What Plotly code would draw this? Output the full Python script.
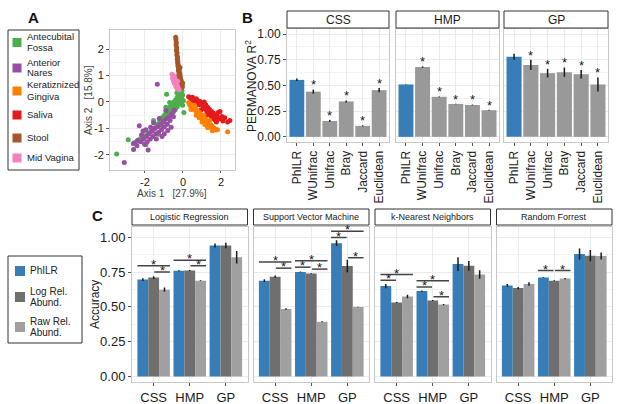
import plotly.graph_objects as go

W, H = 617, 404
FONT = "Liberation Sans, Arial, Helvetica, sans-serif"

# ---------------- panel A: PCoA of body sites
site_names = ["Antecubital\nFossa", "Anterior\nNares", "Keratiznized\nGingiva", "Saliva", "Stool", "Mid Vagina"]
site_colors = ["#4DAF4A", "#984EA3", "#FF7F00", "#E41A1C", "#A65628", "#F781BF"]

fossa_x = [-0.05, -0.12, -0.02, -0.22, -0.15, -0.05, -0.30, -0.25, -0.12, -0.38, -0.35, -0.20, -0.48, -0.45,
           -0.30, -0.58, -0.55, -0.40, -0.68, -0.64, -0.50, -0.78, -0.74, -0.60, -0.88, -0.84, -0.98, -0.94,
           -1.10, -1.05, -1.22, -1.18, -1.35, -1.45, -1.58, -1.70, -1.85, -2.05, -2.25, -2.45, -2.62, -2.88,
           -3.49, 0.05, -0.86, 0.02, -0.18, -0.08, -0.02, -1.95, -1.30, -0.70, -0.90, -0.32, -1.55]
fossa_y = [0.42, 0.34, 0.26, 0.28, 0.18, 0.12, 0.18, 0.06, 0.02, 0.08, -0.05, -0.08, 0.00, -0.14,
           -0.18, -0.08, -0.24, -0.28, -0.18, -0.33, -0.38, -0.28, -0.44, -0.48, -0.38, -0.54, -0.50, -0.64,
           -0.60, -0.76, -0.72, -0.86, -0.84, -0.96, -1.02, -1.12, -1.18, -1.28, -1.40, -1.50, -1.58, -1.43,
           -1.97, -0.40, 0.29, 0.05, 0.46, 0.55, -0.12, -1.62, -1.22, -0.02, -0.20, 0.35, -0.70]

nares_x = [-0.45, -0.58, -0.50, -0.72, -0.68, -0.88, -0.82, -1.02, -0.98, -1.18, -1.12, -1.32, -1.28, -1.48,
           -1.42, -1.62, -1.58, -1.78, -1.72, -1.92, -1.88, -2.08, -2.02, -2.22, -2.38, -2.42, -2.58, -2.30,
           -2.10, -1.83, -3.09, -1.35, -0.98, -0.62, -0.80, -1.25, -1.55, -2.18, -0.90, -1.70, -1.40, -1.10,
           -2.60, -1.95]
nares_y = [-0.30, -0.44, -0.56, -0.55, -0.70, -0.64, -0.84, -0.74, -0.94, -0.84, -1.04, -0.94, -1.14, -1.00,
           -1.20, -1.10, -1.30, -1.20, -1.40, -1.30, -1.50, -1.40, -1.60, -1.50, -1.45, -1.65, -1.55, -0.90,
           -1.10, -1.81, -2.29, 0.67, -1.20, -0.95, -1.08, -0.62, -0.78, -1.25, -0.32, -0.95, -1.40, -1.30,
           -1.80, -1.05]

saliva_x = [0.30, 0.40, 0.50, 0.45, 0.60, 0.70, 0.65, 0.80, 0.90, 0.85, 1.00, 1.05, 1.12, 1.20, 1.15, 1.30,
            1.26, 1.40, 1.36, 1.50, 1.46, 1.60, 1.56, 1.70, 1.66, 1.80, 1.95, 1.90, 2.05, 2.20, 2.47, 2.35,
            1.76, 0.95, 1.22, 0.55, 1.85, 2.10]
saliva_y = [0.20, 0.14, 0.18, 0.04, 0.10, 0.12, -0.02, 0.04, 0.02, -0.10, -0.05, -0.16, 0.00, -0.10, -0.26,
            -0.20, -0.36, -0.28, -0.46, -0.36, -0.52, -0.42, -0.60, -0.50, -0.66, -0.55, -0.36, -0.64, -0.55,
            -0.60, -0.70, -0.76, -0.76, -0.30, -0.50, -0.05, -0.40, -0.72]

gingiva_x = [0.30, 0.36, 0.44, 0.50, 0.56, 0.60, 0.66, 0.70, 0.76, 0.80, 0.86, 0.90, 0.96, 1.00, 1.06, 1.10,
             1.16, 1.20, 1.26, 1.30, 1.36, 1.40, 1.46, 1.50, 1.56, 1.60, 1.66, 1.72, 1.82, 2.35, 1.00, 0.70,
             1.30, 1.55, 0.42, 0.85, 1.15, 1.40, 1.10, 0.60]
gingiva_y = [-0.02, -0.12, -0.10, -0.22, -0.16, -0.30, -0.24, -0.38, -0.32, -0.46, -0.40, -0.54, -0.48, -0.62,
             -0.56, -0.70, -0.63, -0.77, -0.71, -0.84, -0.79, -0.91, -0.86, -0.97, -0.93, -1.03, -0.99, -1.06,
             -1.05, -1.12, -0.76, -0.50, -0.96, -1.09, -0.28, -0.60, -0.85, -0.70, -0.50, -0.12]

stool_x = [-0.38, -0.37, -0.35, -0.36, -0.33, -0.34, -0.31, -0.32, -0.29, -0.30, -0.27, -0.28, -0.25, -0.26,
           -0.23, -0.20, -0.24, -0.18, -0.21, -0.15, -0.19, -0.13, -0.17, -0.10, -0.14, -0.08, -0.12, -0.05,
           -0.09, -0.03, -0.07, -0.02, -0.22, -0.16]
stool_y = [2.45, 2.36, 2.25, 2.15, 2.05, 1.95, 1.86, 1.78, 1.70, 1.62, 1.55, 1.48, 1.42, 1.35, 1.28, 1.22,
           1.18, 1.12, 1.06, 1.02, 0.96, 0.92, 0.86, 0.82, 0.78, 0.74, 0.70, 0.66, 0.62, 0.58, 0.55, 0.72,
           0.98, 1.30]

vagina_x = [-0.58, -0.52, -0.47, -0.55, -0.44, -0.40, -0.50, -0.36, -0.42, -0.33, -0.30, -0.38, -0.27, -0.24,
            -0.32, -0.20, -0.46, -0.28]
vagina_y = [1.05, 1.00, 0.96, 0.90, 0.88, 0.82, 0.80, 0.75, 0.70, 0.68, 0.62, 0.60, 0.56, 0.50, 0.52, 0.46,
            0.72, 0.78]

# ---------------- panel B: PERMANOVA R2
methods = ["PhILR", "WUnifrac", "Unifrac", "Bray", "Jaccard", "Euclidean"]
datasets = ["CSS", "HMP", "GP"]
r2_css = [0.555, 0.440, 0.155, 0.345, 0.107, 0.455]
r2_css_err = [0.012, 0.020, 0.008, 0.010, 0.005, 0.020]
r2_hmp = [0.510, 0.680, 0.390, 0.320, 0.310, 0.260]
r2_hmp_err = [0.003, 0.006, 0.004, 0.003, 0.004, 0.004]
r2_gp = [0.780, 0.700, 0.620, 0.630, 0.610, 0.510]
r2_gp_err = [0.030, 0.050, 0.042, 0.045, 0.042, 0.068]

# ---------------- panel C: classifier accuracy
classifiers = ["Logistic Regression", "Support Vector Machine", "k-Nearest Neighbors", "Random Forrest"]
transforms = ["PhILR", "Log Rel.\nAbund.", "Raw Rel.\nAbund."]
lr_philr, lr_log, lr_raw = [0.697, 0.760, 0.942], [0.711, 0.762, 0.942], [0.624, 0.689, 0.857]
lr_philr_err, lr_log_err, lr_raw_err = [0.010, 0.003, 0.015], [0.010, 0.003, 0.020], [0.015, 0.003, 0.045]
svm_philr, svm_log, svm_raw = [0.689, 0.752, 0.959], [0.718, 0.740, 0.794], [0.485, 0.393, 0.500]
svm_philr_err, svm_log_err, svm_raw_err = [0.010, 0.003, 0.020], [0.008, 0.003, 0.045], [0.005, 0.004, 0.002]
knn_philr, knn_log, knn_raw = [0.650, 0.614, 0.808], [0.532, 0.546, 0.796], [0.575, 0.517, 0.733]
knn_philr_err, knn_log_err, knn_raw_err = [0.015, 0.004, 0.050], [0.004, 0.004, 0.035], [0.012, 0.004, 0.030]
rf_philr, rf_log, rf_raw = [0.655, 0.711, 0.881], [0.636, 0.689, 0.869], [0.665, 0.704, 0.867]
rf_philr_err, rf_log_err, rf_raw_err = [0.010, 0.003, 0.040], [0.008, 0.003, 0.040], [0.012, 0.004, 0.025]

# significance brackets: (dataset, pair, height); pair "13" spans all three bars
lr_sig = [("CSS", "13", 0.796), ("CSS", "23", 0.752), ("HMP", "13", 0.835), ("HMP", "23", 0.796)]
svm_sig = [("CSS", "13", 0.823), ("CSS", "23", 0.779), ("HMP", "13", 0.833), ("HMP", "12", 0.786),
           ("HMP", "23", 0.772), ("GP", "13", 1.044), ("GP", "12", 1.000), ("GP", "23", 0.854)]
knn_sig = [("CSS", "13", 0.733), ("CSS", "12", 0.692), ("HMP", "13", 0.689), ("HMP", "12", 0.643),
           ("HMP", "23", 0.573)]
rf_sig = [("HMP", "12", 0.762), ("HMP", "23", 0.762)]

BLUE = "#377EB8"
GREY_B = "#999999"
trans_colors = [BLUE, "#6F6F6F", "#A0A0A0"]


def X(p):
    return p / W


def Y(p):
    return 1 - p / H


def label(text, xp, yp, size, color="#1A1A1A", xanchor="center", angle=0):
    return dict(text=text, x=X(xp), y=Y(yp), xref="paper", yref="paper", xanchor=xanchor,
                yanchor="middle", showarrow=False, textangle=angle, font=dict(size=size, color=color))


fig = go.Figure()
shapes, annots = [], []

# ---- A
for xs, ys, c in [(fossa_x, fossa_y, site_colors[0]), (nares_x, nares_y, site_colors[1]),
                  (saliva_x, saliva_y, site_colors[3]), (gingiva_x, gingiva_y, site_colors[2]),
                  (stool_x, stool_y, site_colors[4]), (vagina_x, vagina_y, site_colors[5])]:
    fig.add_trace(go.Scatter(x=xs, y=ys, mode="markers", marker=dict(size=5, color=c),
                             showlegend=False, xaxis="x", yaxis="y"))

base = dict(showline=True, mirror=True, linecolor="#C8C8C8", linewidth=1, showgrid=True,
            gridcolor="#EBEBEB", zeroline=False, ticks="outside", ticklen=3, tickcolor="#555555",
            automargin=False, tickfont=dict(size=12, color="#1A1A1A", family=FONT))

lay = {}
lay["xaxis"] = dict(base, domain=[X(110), X(235)], anchor="y", range=[-3.84, 2.74], ticklen=2,
                    tickvals=[-2, 0, 2], ticktext=["-2", "0", "2"], tickfont=dict(size=11, color="#1A1A1A"),
                    minor=dict(tickvals=[-3, -1, 1], showgrid=True, gridcolor="#F4F4F4", ticks=""))
lay["yaxis"] = dict(base, domain=[Y(170), Y(30)], anchor="x", range=[-2.57, 2.72],
                    tickvals=[-2, -1, 0, 1, 2], ticktext=["-2", "-1", "0", "1", "2"],
                    tickfont=dict(size=11, color="#1A1A1A"),
                    minor=dict(tickvals=[-1.5, -0.5, 0.5, 1.5], showgrid=True, gridcolor="#F4F4F4", ticks=""))

annots.append(label("Axis 1   [27.9%]", 172, 193, 10, "#444444"))
annots.append(label("Axis 2   [15.8%]", 88, 100, 10, "#444444", angle=-90))

# legend A
shapes.append(dict(type="rect", xref="paper", yref="paper", x0=X(8), x1=X(79), y0=Y(170), y1=Y(30),
                   line=dict(color="#333333", width=1), fillcolor="white", layer="below"))
leg_a_y = [42.5, 68, 91, 115, 138, 158]
for name, c, yc in zip(site_names, site_colors, leg_a_y):
    shapes.append(dict(type="rect", xref="paper", yref="paper", x0=X(12.5), x1=X(21.5),
                       y0=Y(yc + 4.5), y1=Y(yc - 4.5), line=dict(width=0), fillcolor=c))
    lines = name.split("\n")
    for i, t in enumerate(lines):
        off = (i - (len(lines) - 1) / 2) * 11
        annots.append(label(t, 24.5, yc + off - 0.5, 9.5, "#222222", xanchor="left"))

# ---- B
b_dom = [(287, 389), (396, 499), (504, 608)]
b_vals = [(r2_css, r2_css_err), (r2_hmp, r2_hmp_err), (r2_gp, r2_gp_err)]
for k, (ds, (vals, errs), (x0, x1)) in enumerate(zip(datasets, b_vals, b_dom)):
    n = k + 2
    fig.add_trace(go.Bar(x=methods, y=vals, marker=dict(color=[BLUE] + [GREY_B] * 5, line=dict(width=0)),
                         error_y=dict(type="data", array=errs, color="#1A1A1A", thickness=1.5, width=0),
                         showlegend=False, xaxis=f"x{n}", yaxis=f"y{n}"))
    lay[f"xaxis{n}"] = dict(base, domain=[X(x0), X(x1)], anchor=f"y{n}", type="category",
                            range=[-0.6, 5.6], tickangle=-90)
    lay[f"yaxis{n}"] = dict(base, domain=[Y(142), Y(29)], anchor=f"x{n}", range=[-0.05, 1.05],
                            tickvals=[0, 0.25, 0.5, 0.75, 1], ticktext=["0.00", "0.25", "0.50", "0.75", "1.00"],
                            showticklabels=(k == 0), ticks="outside" if k == 0 else "",
                            minor=dict(tickvals=[0.125, 0.375, 0.625, 0.875], showgrid=True,
                                       gridcolor="#F4F4F4", ticks=""))
    shapes.append(dict(type="rect", xref="paper", yref="paper", x0=X(x0), x1=X(x1), y0=Y(28), y1=Y(11),
                       line=dict(color="#333333", width=1), fillcolor="white"))
    annots.append(label(ds, (x0 + x1) / 2, 19.5, 12))
    for i in range(1, len(methods)):
        annots.append(dict(text="*", x=i, y=vals[i] + errs[i] + 0.045, xref=f"x{n}", yref=f"y{n}",
                           xanchor="center", yanchor="middle", showarrow=False,
                           font=dict(size=13, color="#1A1A1A")))

annots.append(label("PERMANOVA R<sup>2</sup>", 251, 86, 12, angle=-90))

# ---- C
c_dom = [(132, 247.5), (253.5, 369), (375, 490.5), (496.5, 612)]
c_vals = [((lr_philr, lr_log, lr_raw), (lr_philr_err, lr_log_err, lr_raw_err), lr_sig),
          ((svm_philr, svm_log, svm_raw), (svm_philr_err, svm_log_err, svm_raw_err), svm_sig),
          ((knn_philr, knn_log, knn_raw), (knn_philr_err, knn_log_err, knn_raw_err), knn_sig),
          ((rf_philr, rf_log, rf_raw), (rf_philr_err, rf_log_err, rf_raw_err), rf_sig)]
spans = {"13": (-0.45, 0.45), "12": (-0.45, -0.02), "23": (0.02, 0.45)}
for k, (clf, (vals, errs, sig), (x0, x1)) in enumerate(zip(classifiers, c_vals, c_dom)):
    n = k + 5
    for v, e, c in zip(vals, errs, trans_colors):
        fig.add_trace(go.Bar(x=datasets, y=v, marker=dict(color=c, line=dict(width=0)),
                             error_y=dict(type="data", array=e, color="#1A1A1A", thickness=1.5, width=0),
                             showlegend=False, xaxis=f"x{n}", yaxis=f"y{n}"))
    lay[f"xaxis{n}"] = dict(base, domain=[X(x0), X(x1)], anchor=f"y{n}", type="category",
                            range=[-0.6, 2.6], tickfont=dict(size=13, color="#1A1A1A"))
    lay[f"yaxis{n}"] = dict(base, domain=[Y(382), Y(227)], anchor=f"x{n}", range=[-0.04, 1.075],
                            tickvals=[0, 0.25, 0.5, 0.75, 1], ticktext=["0.00", "0.25", "0.50", "0.75", "1.00"],
                            showticklabels=(k == 0), ticks="outside" if k == 0 else "",
                            tickfont=dict(size=13, color="#1A1A1A"),
                            minor=dict(tickvals=[0.125, 0.375, 0.625, 0.875], showgrid=True,
                                       gridcolor="#F4F4F4", ticks=""))
    shapes.append(dict(type="rect", xref="paper", yref="paper", x0=X(x0), x1=X(x1), y0=Y(225), y1=Y(209),
                       line=dict(color="#333333", width=1), fillcolor="white"))
    annots.append(label(clf, (x0 + x1) / 2, 217, 9))
    for ds, pair, h in sig:
        g = datasets.index(ds)
        a, b = spans[pair]
        shapes.append(dict(type="line", xref=f"x{n}", yref=f"y{n}", x0=g + a, x1=g + b, y0=h, y1=h,
                           line=dict(color="#444444", width=1.5)))
        annots.append(dict(text="*", x=g + (a + b) / 2, y=h + 0.01, xref=f"x{n}", yref=f"y{n}",
                           xanchor="center", yanchor="middle", showarrow=False,
                           font=dict(size=13, color="#1A1A1A")))

annots.append(label("Accuracy", 95, 305, 12, angle=-90))

# legend C
shapes.append(dict(type="rect", xref="paper", yref="paper", x0=X(8), x1=X(82), y0=Y(343), y1=Y(256),
                   line=dict(color="#333333", width=1), fillcolor="white", layer="below"))
for name, c, yc in zip(transforms, trans_colors, [271, 297, 327]):
    shapes.append(dict(type="rect", xref="paper", yref="paper", x0=X(15), x1=X(25),
                       y0=Y(yc + 5), y1=Y(yc - 5), line=dict(width=0), fillcolor=c))
    lines = name.split("\n")
    for i, t in enumerate(lines):
        off = (i - (len(lines) - 1) / 2) * 11
        annots.append(label(t, 27.5, yc + off - 0.5, 10, "#222222", xanchor="left"))

# panel letters
for t, xp, yp in [("A", 33, 17), ("B", 247, 17), ("C", 97, 215)]:
    annots.append(label(f"<b>{t}</b>", xp, yp, 15, "#111111"))

fig.update_layout(width=W, height=H, margin=dict(l=0, r=0, t=0, b=0), paper_bgcolor="white",
                  plot_bgcolor="white", font=dict(family=FONT), barmode="group", bargap=0.1,
                  bargroupgap=0, shapes=shapes, annotations=annots, **lay)

fig.write_html("out.html", config={"displayModeBar": False},
               post_script="document.body.style.margin='0';")
